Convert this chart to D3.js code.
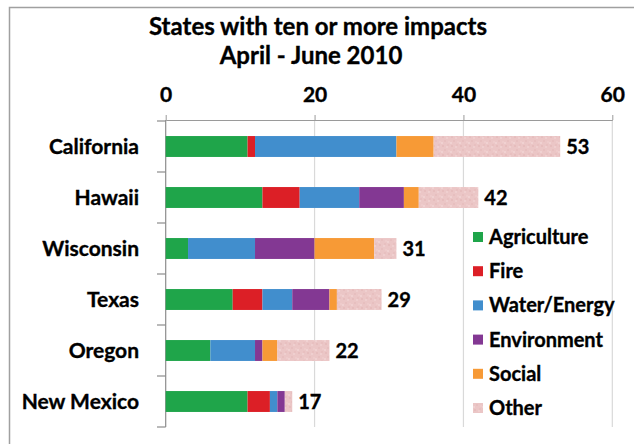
<!DOCTYPE html>
<html><head><meta charset="utf-8">
<script src="https://cdn.jsdelivr.net/npm/d3@7"></script>
<style>
html,body{margin:0;padding:0;background:#fff;}
svg text{font-family:Lato,"Open Sans",sans-serif;font-weight:bold;fill:#000;stroke:#000;stroke-width:0.35px;}
</style></head>
<body>
<svg id="chart" width="634" height="444"></svg>
<script>
const states = ["California","Hawaii","Wisconsin","Texas","Oregon","New Mexico"];
const seriesNames = ["Agriculture","Fire","Water/Energy","Environment","Social","Other"];
const agriculture = [11,13,3,9,6,11];
const fire = [1,5,0,4,0,3];
const waterEnergy = [19,8,9,4,6,1];
const environment = [0,6,8,5,1,1];
const social = [5,2,8,1,2,0];
const other = [17,8,3,6,7,1];
const totals = [53,42,31,29,22,17];
const xTicks = [0,20,40,60];
const colors = ["#1fa54a","#dc1f26","#418ecd","#833893","#f79a36","url(#otherPat)"];

const rows = states.map((s,i)=>({state:s,Agriculture:agriculture[i],Fire:fire[i],"Water/Energy":waterEnergy[i],Environment:environment[i],Social:social[i],Other:other[i],total:totals[i]}));
const stacked = d3.stack().keys(seriesNames)(rows);

const svg = d3.select("#chart");
// soft speckled pattern for Other
const defs = svg.append("defs");
const pat = defs.append("pattern").attr("id","otherPat").attr("patternUnits","userSpaceOnUse").attr("width",9).attr("height",9);
pat.append("rect").attr("width",9).attr("height",9).attr("fill","#ebc6c6");
[[1,1,"#e6bdbd"],[5,2,"#efcfcf"],[3,5,"#e7bfbf"],[7,6,"#eecbcb"],[0,7,"#f0d1d1"],[6,0,"#e8c0c0"]].forEach(p=>{
  pat.append("rect").attr("x",p[0]).attr("y",p[1]).attr("width",2).attr("height",2).attr("fill",p[2]);
});

// outer border
svg.append("path").attr("d","M9.5,444 V7.5 H634").attr("fill","none").attr("stroke","#a0a0a0").attr("stroke-width",1.5);

const x = d3.scaleLinear().domain([0,60]).range([165.7,612.3]);
const y = d3.scaleBand().domain(states).range([121,427]).paddingInner(0.59).paddingOuter(0.295);

// title
svg.append("text").attr("x",318).attr("y",35).attr("text-anchor","middle").style("font-size","24px").text("States with ten or more impacts");
svg.append("text").attr("x",311).attr("y",64).attr("text-anchor","middle").style("font-size","24px").text("April - June 2010");

// gridlines
svg.append("g").selectAll("line").data(xTicks.slice(1)).join("line")
  .attr("x1",d=>x(d)).attr("x2",d=>x(d)).attr("y1",120).attr("y2",427)
  .attr("stroke","#d9d9d9").attr("stroke-width",1.2);

// top axis
const xAxis = svg.append("g").attr("transform","translate(0,120)")
  .call(d3.axisTop(x).tickValues(xTicks).tickSize(5).tickPadding(13).tickSizeOuter(0));
xAxis.select(".domain").attr("stroke","#9a9a9a");
xAxis.selectAll(".tick line").attr("stroke","#9a9a9a");
xAxis.selectAll(".tick text").style("font-size","21px").style("font-family","Lato").attr("fill","#000");

// left axis
const band = y.step();
const yEdges = d3.range(states.length+1).map(i=>121+i*band);
svg.append("line").attr("x1",165.7).attr("x2",165.7).attr("y1",120).attr("y2",427).attr("stroke","#8c8c8c").attr("stroke-width",1.2);
svg.append("g").selectAll("line").data(yEdges).join("line")
  .attr("x1",157).attr("x2",165.7).attr("y1",d=>d).attr("y2",d=>d).attr("stroke","#8c8c8c").attr("stroke-width",1.2);

// category labels
svg.append("g").selectAll("text").data(states).join("text")
  .attr("x",139).attr("y",d=>y(d)+y.bandwidth()/2+7).attr("text-anchor","end")
  .style("font-size","21px").text(d=>d);

// bars
svg.append("g").selectAll("g").data(stacked).join("g")
  .attr("fill",(d,i)=>colors[i])
  .selectAll("rect").data(d=>d).join("rect")
  .attr("x",d=>x(d[0])).attr("width",d=>x(d[1])-x(d[0]))
  .attr("y",d=>y(d.data.state)).attr("height",y.bandwidth());

// totals
svg.append("g").selectAll("text").data(rows).join("text")
  .attr("x",d=>x(d.total)+6).attr("y",d=>y(d.state)+y.bandwidth()/2+7)
  .style("font-size","20px").text(d=>d.total);

// legend
const leg = svg.append("g").selectAll("g").data(seriesNames).join("g")
  .attr("transform",(d,i)=>`translate(473,${237+i*34.2})`);
leg.append("rect").attr("x",0).attr("y",-5).attr("width",10).attr("height",10).attr("fill",(d,i)=>colors[i]);
leg.append("text").attr("x",16).attr("y",7).style("font-size","20px").text(d=>d);
</script>
</body></html>
